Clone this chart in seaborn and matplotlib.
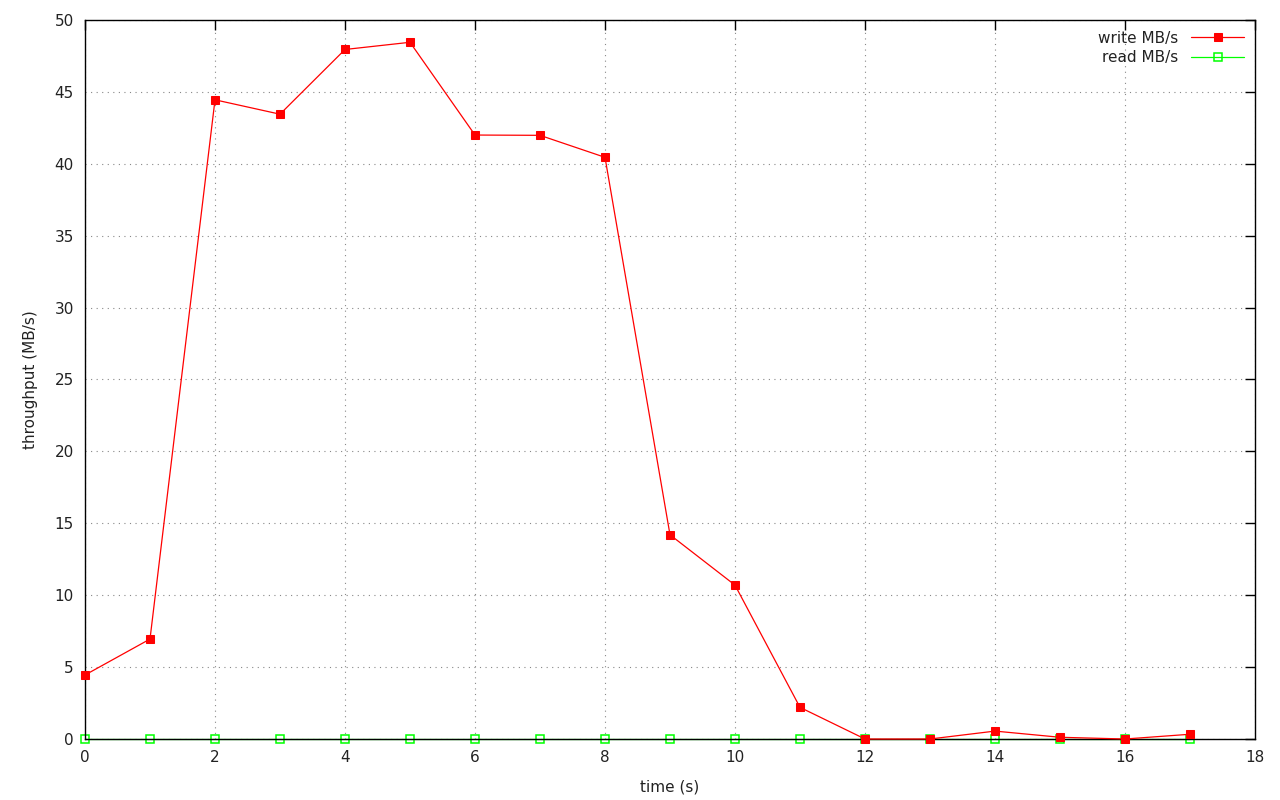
import matplotlib
matplotlib.use("Agg")
import matplotlib.pyplot as plt
import seaborn as sns
import pandas as pd

time_s = [0, 1, 2, 3, 4, 5, 6, 7, 8, 9, 10, 11, 12, 13, 14, 15, 16, 17]
write_mbs = [4.45, 6.95, 44.45, 43.45, 47.95, 48.45, 42.0, 41.98, 40.45, 14.2, 10.7, 2.2,
             0.0, 0.0, 0.55, 0.12, 0.0, 0.33]
read_mbs = [0.0] * 18

sns.set_theme(style="white")
plt.rcParams['font.family'] = ['DejaVu Sans']

df = pd.DataFrame({"time": time_s, "write MB/s": write_mbs, "read MB/s": read_mbs})

fig = plt.figure(figsize=(12.8, 8), dpi=100)
ax = fig.add_axes([85/1280, 1-739/800, (1255-85)/1280, (739-20)/800])

sns.lineplot(data=df, x="time", y="write MB/s", ax=ax, color="#ff0000", lw=0.9,
             marker="s", markersize=5.5, markeredgecolor="#ff0000", markerfacecolor="#ff0000",
             label="write MB/s", zorder=3, clip_on=False)
sns.lineplot(data=df, x="time", y="read MB/s", ax=ax, color="#00ff00", lw=0.9,
             marker="s", markersize=6, markeredgecolor="#00ff00", markerfacecolor="none",
             markeredgewidth=1.1, label="read MB/s", zorder=2, clip_on=False)

ax.set_xlim(0, 18)
ax.set_ylim(0, 50)
ax.set_xticks(range(0, 19, 2))
ax.set_yticks(range(0, 51, 5))
ax.grid(True, linestyle=(0, (1, 4)), color="#888888", linewidth=0.8)
ax.tick_params(axis="both", which="both", direction="in", length=7, width=1, color="black",
               top=True, right=True, labelsize=11, pad=8, labelcolor="#222222")
for s in ax.spines.values():
    s.set_color("black")
    s.set_linewidth(1.0)
    s.set_zorder(2.5)
ax.set_xlabel("time (s)", fontsize=11, labelpad=10, color="#222222")
ax.set_ylabel("throughput (MB/s)", fontsize=11, labelpad=12, color="#222222")

leg = ax.legend(loc="upper right", frameon=False, fontsize=11, markerfirst=False,
                handlelength=3.5, borderaxespad=0.3, handletextpad=0.8, labelspacing=0.3)
for t in leg.get_texts():
    t.set_color("#222222")

fig.savefig("out.png", dpi=100)
